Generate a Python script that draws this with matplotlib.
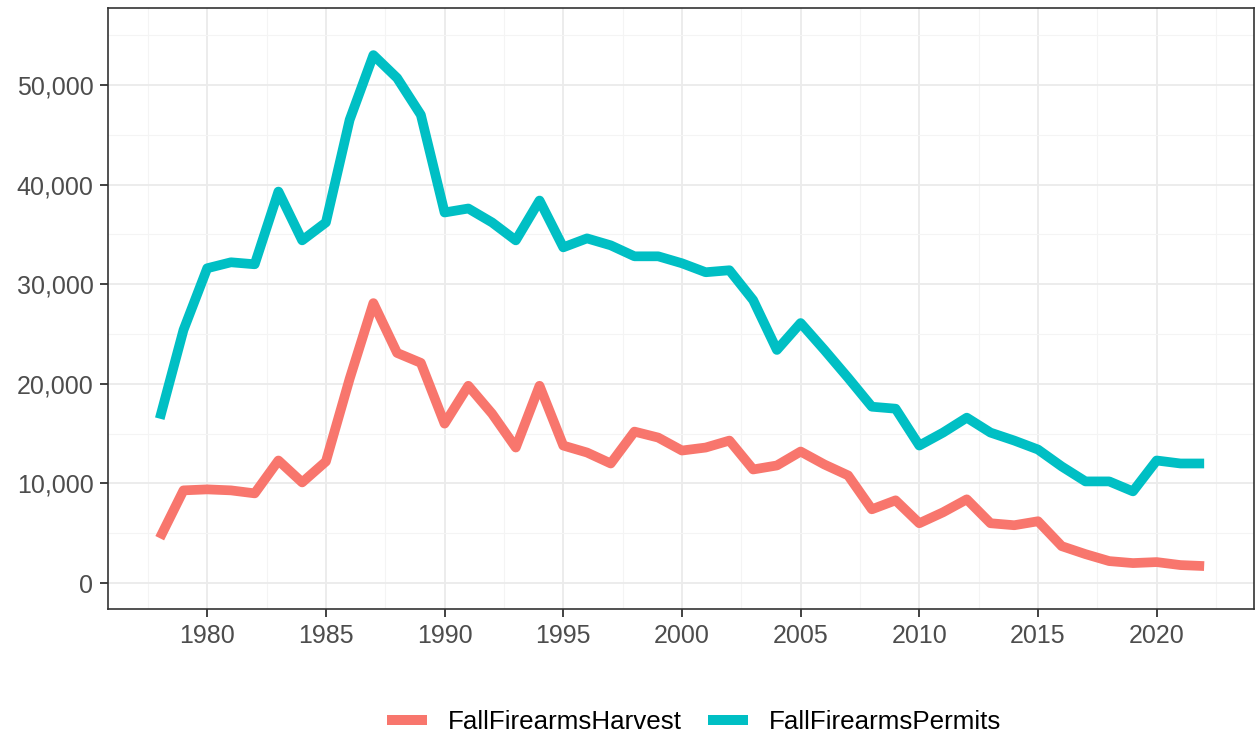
import matplotlib
matplotlib.use("Agg")
import matplotlib.pyplot as plt
from matplotlib.ticker import FuncFormatter, MultipleLocator

# ---------- DATA ----------
years = list(range(1978, 2023))
harvest = [4500, 9300, 9400, 9300, 9000, 12300, 10100, 12200, 20500, 28100,
           23100, 22100, 16000, 19800, 17000, 13600, 19800, 13800, 13100, 12000,
           15200, 14600, 13300, 13600, 14300, 11400, 11800, 13200, 11900, 10800,
           7400, 8300, 6000, 7100, 8400, 6000, 5800, 6200, 3700, 2900,
           2200, 2000, 2100, 1800, 1700]
permits = [16500, 25400, 31600, 32200, 32000, 39300, 34400, 36200, 46500, 53000,
           50700, 47000, 37200, 37600, 36200, 34400, 38400, 33700, 34600, 33900,
           32800, 32800, 32100, 31200, 31400, 28400, 23400, 26100, 23400, 20600,
           17700, 17500, 13800, 15100, 16600, 15100, 14300, 13400, 11700, 10200,
           10200, 9200, 12300, 12000, 12000]
series_names = ["FallFirearmsHarvest", "FallFirearmsPermits"]
colors = ["#F8766D", "#00BFC4"]

# ---------- PLOT ----------
plt.rcParams["font.family"] = ["Liberation Sans", "DejaVu Sans"]

W, H = 1257, 736
fig = plt.figure(figsize=(W / 100, H / 100), dpi=100)
ax = fig.add_axes([108 / W, 1 - 609 / H, (1254 - 108) / W, (609 - 8) / H])

for vals, name, col in zip([harvest, permits], series_names, colors):
    ax.plot(years, vals, color=col, lw=7.0, label=name,
            solid_joinstyle="round", solid_capstyle="butt")

ax.set_xlim(1975.82, 2024.1)
ax.set_ylim(-2610, 57730)

ax.xaxis.set_minor_locator(MultipleLocator(2.5))
ax.yaxis.set_major_locator(MultipleLocator(10000))
ax.yaxis.set_minor_locator(MultipleLocator(5000))
ax.set_xticks(range(1980, 2021, 5))
ax.yaxis.set_major_formatter(FuncFormatter(lambda v, p: f"{int(v):,}"))

ax.grid(True, which="major", color="#EBEBEB", lw=1.3)
ax.grid(True, which="minor", color="#F4F4F4", lw=0.8)
ax.set_axisbelow(True)

for s in ax.spines.values():
    s.set_color("#333333")
    s.set_linewidth(1.2)

ax.tick_params(which="major", length=5.5, width=1.3, color="#333333",
               labelsize=18, labelcolor="#4D4D4D", pad=5)
ax.tick_params(which="minor", length=0)

leg = fig.legend(loc="center", bbox_to_anchor=(0.552, 1 - 722 / H), ncol=2,
                 frameon=False, fontsize=18.7, handlelength=1.55,
                 columnspacing=1.0, handletextpad=0.8)
for line in leg.get_lines():
    line.set_linewidth(7.2)
    line.set_solid_capstyle("butt")

fig.savefig("out.png", dpi=100)
